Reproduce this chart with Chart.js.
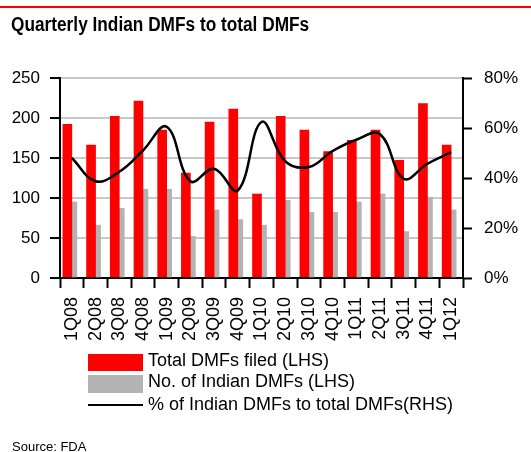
<!DOCTYPE html>
<html>
<head>
<meta charset="utf-8">
<script src="https://cdn.jsdelivr.net/npm/chart.js"></script>
<style>
  body { margin: 0; background: #fff; }
  #wrap { position: relative; width: 531px; height: 452px; overflow: hidden; font-family: "Liberation Sans", Arial, sans-serif; color: #000; }
  #mycanvas { position: absolute; left: 0; top: 0; }
  .topline { position: absolute; left: 0; top: 6px; width: 531px; height: 2px; background: #ff0000; }
  .title { position: absolute; left: 11px; top: 15px; font-weight: bold; font-size: 19.5px; line-height: 1; white-space: nowrap; transform: scaleX(0.885); transform-origin: 0 0; }
  .leg { position: absolute; left: 148px; font-size: 18px; line-height: 1; white-space: nowrap; }
  .box { position: absolute; left: 88px; width: 55px; }
  .source { position: absolute; left: 12px; top: 440px; font-size: 13px; line-height: 1; }
</style>
</head>
<body>
<div id="wrap">
  <canvas id="mycanvas" width="531" height="452"></canvas>
  <div class="topline"></div>
  <div class="title">Quarterly Indian DMFs to total DMFs</div>

  <div class="box" style="top:354px;height:17px;background:#ff0000"></div>
  <div class="leg" style="top:351px">Total DMFs filed (LHS)</div>
  <div class="box" style="top:375px;height:18px;background:#b3b3b3"></div>
  <div class="leg" style="top:372px">No. of Indian DMFs (LHS)</div>
  <div class="box" style="top:404px;height:2px;background:#000"></div>
  <div class="leg" style="top:395px">% of Indian DMFs to total DMFs(RHS)</div>

  <div class="source">Source: FDA</div>
</div>
<script>
// quarters
var quarters = ['1Q08','2Q08','3Q08','4Q08','1Q09','2Q09','3Q09','4Q09','1Q10','2Q10','3Q10','4Q10','1Q11','2Q11','3Q11','4Q11','1Q12'];
// Total DMFs filed (LHS)
var totalDmfs = [192, 166, 202, 221, 185, 131, 195, 211, 105, 202, 185, 158, 172, 185, 147, 218, 166];
// No. of Indian DMFs (LHS)
var indianDmfs = [95, 66, 87, 111, 111, 52, 85, 73, 66, 97, 82, 82, 95, 105, 58, 101, 85];
// % of Indian DMFs to total DMFs (RHS)
var indianShare = [48, 38.7, 42.5, 51, 60.5, 38.7, 43.7, 35, 62.4, 46.7, 44.4, 50.8, 55.3, 57.5, 39.7, 45.7, 50.3];
// axis ticks
var lhsTicks = [0, 50, 100, 150, 200, 250];
var rhsTicks = [0, 20, 40, 60, 80];

Chart.defaults.font.family = '"Liberation Sans", Arial, sans-serif';
Chart.defaults.font.size = 17;
Chart.defaults.color = '#000';

var chartdata = {
  labels: quarters,
  datasets: [
    {
      type: 'line',
      label: '% of Indian DMFs to total DMFs(RHS)',
      data: indianShare,
      yAxisID: 'y1',
      borderColor: '#000',
      borderWidth: 2.5,
      pointRadius: 0,
      tension: 0.4,
      fill: false,
      order: 0
    },
    {
      type: 'bar',
      label: 'Total DMFs filed (LHS)',
      data: totalDmfs,
      yAxisID: 'y',
      backgroundColor: '#ff0000',
      barThickness: 9,
      order: 1
    },
    {
      type: 'bar',
      label: 'No. of Indian DMFs (LHS)',
      data: indianDmfs,
      yAxisID: 'y',
      backgroundColor: '#b3b3b3',
      barThickness: 5,
      order: 2
    }
  ]
};

var ctx = document.getElementById('mycanvas');

var barGraph = new Chart(ctx, {
  type: 'bar',
  data: chartdata,
  options: {
    responsive: false,
    animation: false,
    devicePixelRatio: 1,
    layout: { padding: { top: 78, bottom: 104, left: 0, right: 0 } },
    plugins: {
      legend: { display: false },
      tooltip: { enabled: false }
    },
    scales: {
      x: {
        grid: { offset: true, drawOnChartArea: false, tickLength: 10, tickColor: '#000', tickWidth: 2 },
        border: { color: '#000', width: 2 },
        ticks: { autoSkip: false, minRotation: 90, maxRotation: 90, padding: 9, font: { size: 18 } },
        afterFit: function(scale) { scale.height = 70; }
      },
      y: {
        position: 'left',
        min: lhsTicks[0],
        max: lhsTicks[lhsTicks.length - 1],
        afterBuildTicks: function(scale) { scale.ticks = lhsTicks.map(function(v) { return { value: v }; }); },
        grid: { color: '#c8c8c8', lineWidth: 2, tickLength: 10, tickColor: '#000', tickWidth: 2 },
        border: { color: '#000', width: 2 },
        ticks: { padding: 10 },
        afterFit: function(scale) { scale.width = 60; }
      },
      y1: {
        position: 'right',
        min: rhsTicks[0],
        max: rhsTicks[rhsTicks.length - 1],
        afterBuildTicks: function(scale) { scale.ticks = rhsTicks.map(function(v) { return { value: v }; }); },
        grid: { drawOnChartArea: false, tickLength: 9, tickColor: '#000', tickWidth: 2 },
        border: { color: '#000', width: 2 },
        ticks: { padding: 12, callback: function(v) { return v + '%'; } },
        afterFit: function(scale) { scale.width = 68; }
      }
    }
  }
});
</script>
</body>
</html>
